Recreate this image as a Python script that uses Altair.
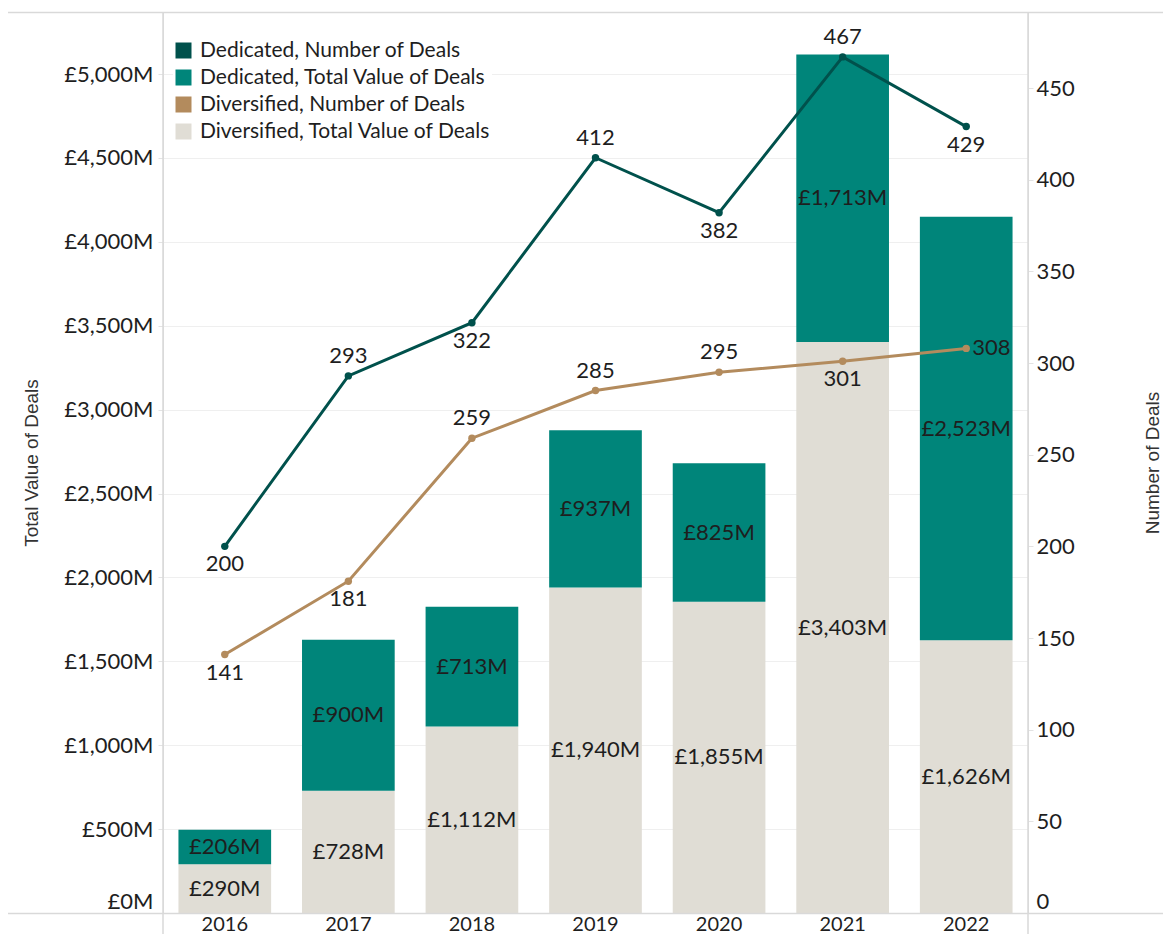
import altair as alt
import pandas as pd

# ---------------- data ----------------
years = ["2016", "2017", "2018", "2019", "2020", "2021", "2022"]
dedicated_value = [206, 900, 713, 937, 825, 1713, 2523]        # £M
diversified_value = [290, 728, 1112, 1940, 1855, 3403, 1626]   # £M
dedicated_count = [200, 293, 322, 412, 382, 467, 429]
diversified_count = [141, 181, 259, 285, 295, 301, 308]

S_DED_N = "Dedicated, Number of Deals"
S_DED_V = "Dedicated, Total Value of Deals"
S_DIV_N = "Diversified, Number of Deals"
S_DIV_V = "Diversified, Total Value of Deals"
series_order = [S_DED_N, S_DED_V, S_DIV_N, S_DIV_V]

# ---------------- style ----------------
colors = ["#00514c", "#00857a", "#b38b5d", "#e0ddd5"]
ded_label_pos = ["below", "above", "below", "above", "below", "above", "below"]
div_label_pos = ["below", "below", "above", "above", "above", "below", "right"]
FONT = "Lato"
FS = 22
TXT = "#1e1e1e"
BORDER = "#d9d9d9"

bar_df = pd.DataFrame(
    [{"year": y, "series": S_DIV_V, "value": v, "order": 0} for y, v in zip(years, diversified_value)]
    + [{"year": y, "series": S_DED_V, "value": v, "order": 1} for y, v in zip(years, dedicated_value)]
)
line_df = pd.DataFrame(
    [{"year": y, "series": S_DED_N, "count": c, "pos": p} for y, c, p in zip(years, dedicated_count, ded_label_pos)]
    + [{"year": y, "series": S_DIV_N, "count": c, "pos": p} for y, c, p in zip(years, diversified_count, div_label_pos)]
)

x_enc = alt.X(
    "year:N",
    sort=years,
    scale=alt.Scale(paddingInner=0.25, paddingOuter=0.125),
    axis=alt.Axis(title=None, labelAngle=0, ticks=False, domain=False, labelPadding=1,
                  labelFont=FONT, labelFontSize=20, labelColor=TXT),
)

zero_offset = {"condition": {"test": "datum.value === 0", "value": -12}, "value": 0}

left_axis = alt.Axis(
    values=list(range(0, 5001, 500)),
    labelExpr="'£' + format(datum.value, ',') + 'M'",
    title="Total Value of Deals",
    grid=True, gridColor="#efefef", domain=False,
    ticks=True, tickColor="#e3e3e3", tickSize=5,
    labelPadding=5, labelFont=FONT, labelFontSize=FS, labelColor=TXT,
    labelOffset=zero_offset,
    titleFont="Liberation Sans", titleFontSize=19, titleFontWeight="normal", titleColor="#333",
    titlePadding=22,
)
left_scale = alt.Scale(domain=[0, 5370], nice=False, zero=True)

right_axis = alt.Axis(
    orient="right",
    values=list(range(0, 451, 50)),
    title="Number of Deals", titleAngle=270,
    grid=False, domain=False,
    ticks=True, tickColor="#e3e3e3", tickSize=5,
    labelPadding=3, labelFont=FONT, labelFontSize=FS, labelColor=TXT,
    labelOffset=zero_offset,
    titleFont="Liberation Sans", titleFontSize=19, titleFontWeight="normal", titleColor="#333",
    titlePadding=88,
)
right_scale = alt.Scale(domain=[0, 491.5], nice=False, zero=True)

color_enc = alt.Color(
    "series:N",
    scale=alt.Scale(domain=series_order, range=colors),
    legend=alt.Legend(
        title=None, orient="none", legendX=10, legendY=28,
        symbolType="square", symbolSize=256, symbolStrokeWidth=0, symbolOpacity=1,
        labelFont=FONT, labelFontSize=FS - 1, labelColor=TXT, labelOffset=6,
        rowPadding=5, padding=0, fillColor="white", labelLimit=400,
    ),
)

stacked = alt.Chart(bar_df).transform_stack(
    stack="value", groupby=["year"], as_=["v0", "v1"],
    sort=[alt.SortField("order", order="ascending")],
).transform_calculate(
    mid="(datum.v0 + datum.v1) / 2",
    label="'£' + format(datum.value, ',') + 'M'",
)

bars = stacked.mark_bar().encode(
    x=x_enc,
    y=alt.Y("v0:Q", scale=left_scale, axis=left_axis),
    y2="v1:Q",
    color=color_enc,
)
bar_text = stacked.mark_text(font=FONT, fontSize=FS, color=TXT, baseline="middle").encode(
    x=x_enc,
    y=alt.Y("mid:Q", scale=left_scale, axis=left_axis),
    text="label:N",
)
left = alt.layer(bars, bar_text)

lbase = alt.Chart(line_df)
y_right = alt.Y("count:Q", scale=right_scale, axis=right_axis)
lines = lbase.mark_line(strokeWidth=3).encode(x=x_enc, y=y_right, color=color_enc, detail="series:N")
points = lbase.mark_point(filled=True, size=55, opacity=1).encode(x=x_enc, y=y_right, color=color_enc)
t_above = lbase.transform_filter("datum.pos === 'above'").mark_text(
    font=FONT, fontSize=FS, color=TXT, baseline="middle", dy=-20).encode(x=x_enc, y=y_right, text="count:Q")
t_below = lbase.transform_filter("datum.pos === 'below'").mark_text(
    font=FONT, fontSize=FS, color=TXT, baseline="middle", dy=18).encode(x=x_enc, y=y_right, text="count:Q")
t_right = lbase.transform_filter("datum.pos === 'right'").mark_text(
    font=FONT, fontSize=FS, color=TXT, baseline="middle", align="left", dx=6).encode(x=x_enc, y=y_right, text="count:Q")
right = alt.layer(lines, points, t_above, t_below, t_right)

# pane borders (Tableau-style frame)
one = alt.Chart(pd.DataFrame({"k": [0]}))
frame = alt.layer(
    one.mark_rule(color=BORDER, strokeWidth=1.5).encode(x=alt.value(-155), x2=alt.value(1000), y=alt.value(0.5)),
    one.mark_rule(color=BORDER, strokeWidth=1.5).encode(x=alt.value(-155), x2=alt.value(1000), y=alt.value(901.5)),
    one.mark_rule(color=BORDER, strokeWidth=1.5).encode(x=alt.value(0), y=alt.value(0), y2=alt.value(926)),
    one.mark_rule(color=BORDER, strokeWidth=1.5).encode(x=alt.value(865), y=alt.value(0), y2=alt.value(926)),
)

chart = alt.layer(left, right, frame).resolve_scale(y="independent").properties(
    width=865, height=901,
    autosize=alt.AutoSizeParams(type="none"),
    padding={"left": 155, "top": 4, "right": 135, "bottom": 21},
).configure_view(stroke=None).configure(background="white")

chart.save("out.html", embed_options={"renderer": "svg", "actions": False})
